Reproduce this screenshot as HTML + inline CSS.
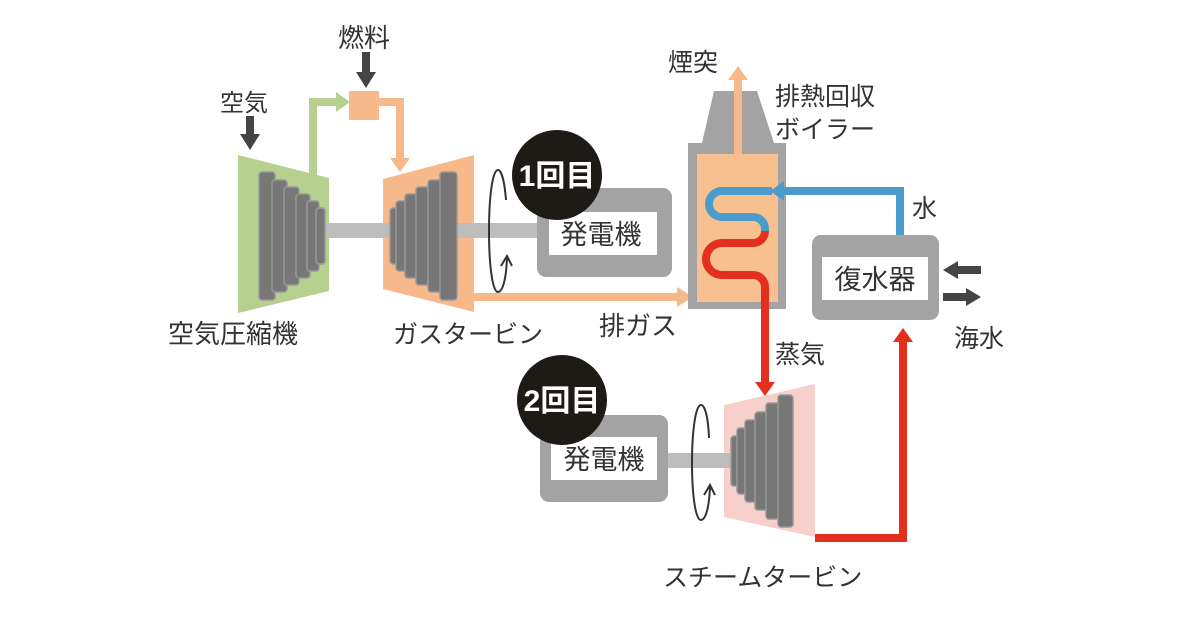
<!DOCTYPE html>
<html><head><meta charset="utf-8"><style>
html,body{margin:0;padding:0;background:#fff;}
svg{display:block;}
text{font-family:"Liberation Sans","Noto Sans CJK JP",sans-serif;fill:#333;}
</style></head><body>
<svg width="1200" height="639" viewBox="0 0 1200 639" xmlns="http://www.w3.org/2000/svg">
<!-- labels -->
<text x="338" y="47" font-size="26">燃料</text>
<text x="220" y="111" font-size="24">空気</text>
<text x="168" y="343" font-size="26">空気圧縮機</text>
<text x="393" y="343" font-size="25">ガスタービン</text>
<text x="599" y="335" font-size="26">排ガス</text>
<text x="668" y="71" font-size="25">煙突</text>
<text x="775" y="105" font-size="25">排熱回収</text>
<text x="775" y="138" font-size="25">ボイラー</text>
<text x="912" y="217" font-size="25">水</text>
<text x="954" y="347" font-size="25">海水</text>
<text x="775" y="363" font-size="25">蒸気</text>
<text x="663" y="586" font-size="25">スチームタービン</text>

<!-- dark input arrows -->
<rect x="246" y="116" width="8" height="20" fill="#444"/>
<polygon points="240,134 260,134 250,150" fill="#444"/>
<rect x="362" y="52" width="8" height="22" fill="#444"/>
<polygon points="356,72 376,72 366,88" fill="#444"/>

<!-- green arrow -->
<path d="M313,180 V102 H338" fill="none" stroke="#b5d08f" stroke-width="8"/>
<polygon points="336,92 350,102 336,112" fill="#b5d08f"/>
<!-- fuel box -->
<rect x="349" y="91" width="30" height="29" fill="#f8b98a"/>
<path d="M379,102 H400 V160" fill="none" stroke="#f8b98a" stroke-width="8"/>
<polygon points="390,158 410,158 400,172" fill="#f8b98a"/>

<!-- compressor -->
<polygon points="238,155 329,178 329,291 238,313" fill="#b5d08f"/>
<!-- gas turbine -->
<polygon points="383,179 474,155 474,312 383,289" fill="#f8b98a"/>
<!-- shaft -->
<rect x="318" y="223" width="225" height="15" fill="#bdbdbd"/>
<g fill="#777" stroke="#999" stroke-width="1.5">
<rect x="259" y="172" width="16" height="128" rx="3"/>
<rect x="272" y="180" width="15" height="112" rx="3"/>
<rect x="284" y="187" width="15" height="98" rx="3"/>
<rect x="296" y="194" width="14" height="84" rx="3"/>
<rect x="307" y="201" width="12" height="70" rx="3"/>
<rect x="316" y="208" width="9" height="56" rx="3"/>
<rect x="390" y="208" width="9" height="56" rx="3"/>
<rect x="396" y="201" width="12" height="70" rx="3"/>
<rect x="405" y="194" width="14" height="84" rx="3"/>
<rect x="416" y="187" width="15" height="98" rx="3"/>
<rect x="428" y="180" width="15" height="112" rx="3"/>
<rect x="440" y="172" width="17" height="128" rx="3"/>
</g>

<!-- generator 1 -->
<rect x="537" y="188" width="135" height="89" rx="9" fill="#a3a3a3"/>
<rect x="549" y="212" width="108" height="43" fill="#fff"/>
<text x="601" y="244" font-size="27" text-anchor="middle">発電機</text>
<circle cx="557" cy="175" r="45" fill="#1e1a15"/>
<text x="557" y="186" font-size="30" font-weight="bold" text-anchor="middle" style="fill:#fff">1回目</text>
<!-- rotation 1 -->
<path d="M506,200 C504,175 500,170 498,170 C492,170 489,200 489,231 C489,262 492,292 498,292 C502,292 506,282 507,258" fill="none" stroke="#333" stroke-width="2"/>
<path d="M501,266 L507,256 L512,266" fill="none" stroke="#333" stroke-width="2"/>

<!-- exhaust arrow -->
<rect x="474" y="293" width="205" height="8" fill="#f8b98a"/>
<polygon points="677,287 693,297 677,307" fill="#f8b98a"/>

<!-- boiler -->
<polygon points="714,91 757,91 774,143 702,143" fill="#a3a3a3"/>
<rect x="688" y="143" width="98" height="166" fill="#a3a3a3"/>
<rect x="697" y="154" width="81" height="148" fill="#f8c08f"/>
<rect x="734" y="78" width="8" height="76" fill="#f8b98a"/>
<polygon points="728,80 738,66 748,80" fill="#f8b98a"/>
<!-- blue pipe -->
<path d="M900,236 V191 H780" fill="none" stroke="#4b9ccc" stroke-width="8"/>
<polygon points="784,181 770,191 784,201" fill="#4b9ccc"/>
<path d="M772,191 H722 A13,13 0 0,0 722,217 H753 A12,12 0 0,1 765,229 V232" fill="none" stroke="#4b9ccc" stroke-width="8"/>
<!-- red pipe -->
<path d="M765,231 A12,12 0 0,1 753,243 H722 A16,16 0 0,0 722,275 H753 A12,12 0 0,1 765,287 V384" fill="none" stroke="#e3301e" stroke-width="8"/>
<polygon points="755,382 775,382 765,396" fill="#e3301e"/>

<!-- condenser -->
<rect x="812" y="235" width="127" height="85" rx="9" fill="#a3a3a3"/>
<rect x="822" y="257" width="106" height="43" fill="#fff"/>
<text x="875" y="289" font-size="27" text-anchor="middle">復水器</text>
<rect x="956" y="266" width="25" height="8" fill="#444"/>
<polygon points="958,261 943,270 958,279" fill="#444"/>
<rect x="943" y="293" width="25" height="8" fill="#444"/>
<polygon points="966,288 981,297 966,306" fill="#444"/>

<!-- red return -->
<path d="M815,538 H903 V340" fill="none" stroke="#e3301e" stroke-width="8"/>
<polygon points="893,342 903,328 913,342" fill="#e3301e"/>

<!-- steam turbine -->
<polygon points="724,405 815,384 815,537 724,517" fill="#f7cfcb"/>
<rect x="668" y="453" width="62" height="15" fill="#bdbdbd"/>
<g fill="#777" stroke="#999" stroke-width="1.5">
<rect x="731" y="436" width="9" height="50" rx="3"/>
<rect x="737" y="428" width="11" height="66" rx="3"/>
<rect x="745" y="420" width="13" height="82" rx="3"/>
<rect x="755" y="412" width="14" height="98" rx="3"/>
<rect x="766" y="403" width="15" height="116" rx="3"/>
<rect x="778" y="395" width="15" height="132" rx="3"/>
</g>

<!-- generator 2 -->
<rect x="540" y="415" width="128" height="87" rx="9" fill="#a3a3a3"/>
<rect x="551" y="437" width="106" height="43" fill="#fff"/>
<text x="604" y="469" font-size="27" text-anchor="middle">発電機</text>
<circle cx="562" cy="400" r="45" fill="#1e1a15"/>
<text x="562" y="411" font-size="30" font-weight="bold" text-anchor="middle" style="fill:#fff">2回目</text>
<!-- rotation 2 -->
<path d="M709,438 C708,413 704,405 701,405 C695,405 692,435 692,462 C692,492 695,520 701,520 C705,520 709,510 710,487" fill="none" stroke="#333" stroke-width="2"/>
<path d="M704,495 L710,485 L715,495" fill="none" stroke="#333" stroke-width="2"/>
</svg>
</body></html>
